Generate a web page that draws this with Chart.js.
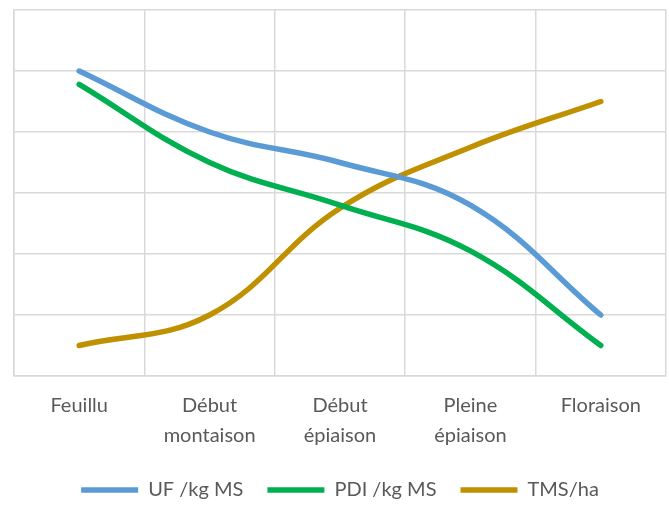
<!DOCTYPE html>
<html>
<head>
<meta charset="utf-8">
<script src="https://cdn.jsdelivr.net/npm/chart.js@4"></script>
<style>
    html, body { margin: 0; padding: 0; background: #fff; }
    #wrap { width: 669px; height: 522px; }
</style>
</head>
<body>
<div id="wrap"><canvas id="stades"></canvas></div>
<script>
const stades = [['Feuillu'], ['Début', 'montaison'], ['Début', 'épiaison'], ['Pleine', 'épiaison'], ['Floraison']];
const ufKgMs = [5, 4, 3.5, 2.8, 1];
const pdiKgMs = [4.78, 3.5, 2.8, 2.05, 0.5];
const tmsHa = [0.5, 1, 2.75, 3.75, 4.5];

const gridColor = '#d9d9d9';
const textColor = '#595959';

function serie(label, data, color) {
    return {
        label: label,
        data: data,
        borderColor: color,
        backgroundColor: color,
        borderWidth: 5.5,
        borderCapStyle: 'round',
        pointRadius: 0,
        pointHoverRadius: 0,
        fill: false,
        tension: 0.4
    };
}

new Chart(document.getElementById('stades').getContext('2d'), {
    type: 'line',
    data: {
        labels: stades,
        datasets: [
            serie('UF /kg MS', ufKgMs, '#5b9bd5'),
            serie('PDI /kg MS', pdiKgMs, '#00b050'),
            serie('TMS/ha', tmsHa, '#bf9000')
        ]
    },
    options: {
        responsive: true,
        maintainAspectRatio: false,
        animation: false,
        layout: { padding: { left: 14, right: 3, top: 10, bottom: 12 } },
        plugins: {
            tooltip: { enabled: false },
            legend: {
                position: 'bottom',
                labels: {
                    color: textColor,
                    font: { family: 'Lato', size: 20 },
                    usePointStyle: true,
                    pointStyle: 'line',
                    pointStyleWidth: 57,
                    padding: 24
                }
            }
        },
        scales: {
            x: {
                offset: true,
                grid: { color: gridColor, lineWidth: 1.5, offset: true, drawTicks: false },
                border: { color: gridColor, width: 1.5 },
                ticks: {
                    color: textColor,
                    font: { family: 'Lato', size: 20, lineHeight: 1.5 },
                    padding: 15,
                    maxRotation: 0,
                    autoSkip: false
                },
                // labels sit closer to the legend than chart.js would put them
                afterFit: function(axis) { axis.height -= 10; }
            },
            y: {
                min: 0,
                max: 6,
                ticks: { display: false, stepSize: 1 },
                grid: { color: gridColor, lineWidth: 1.5, drawTicks: false },
                border: { color: gridColor, width: 1.5 },
                afterFit: function(axis) { axis.width = 0; }
            }
        }
    }
});
</script>
</body>
</html>
